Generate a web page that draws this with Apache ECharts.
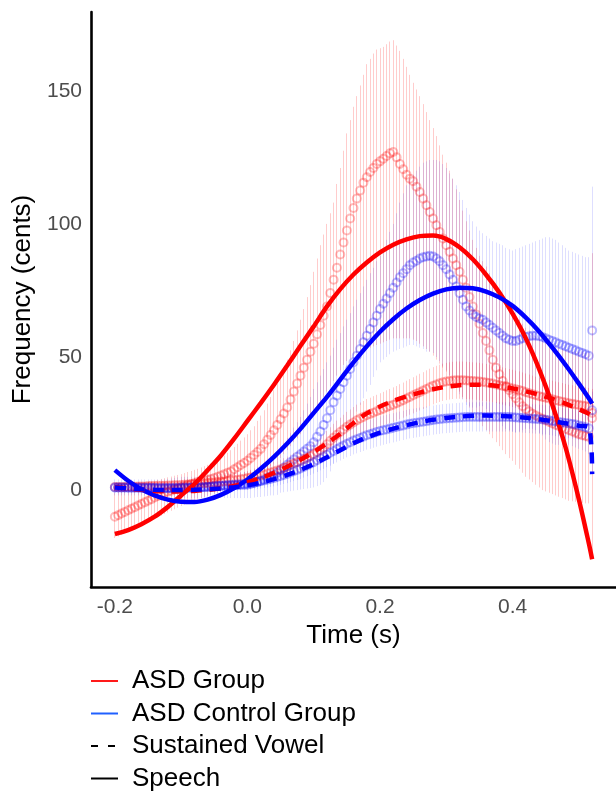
<!DOCTYPE html>
<html>
<head>
<meta charset="utf-8">
<script src="https://cdn.jsdelivr.net/npm/echarts@6/dist/echarts.min.js"></script>
<style>
html,body{margin:0;padding:0;background:#fff;}
#chart{width:616px;height:792px;}
</style>
</head>
<body>
<div id="chart"></div>
<script>
// ---- sampling grid of the per-time-point means (5 ms steps from -0.2 s to 0.52 s)
const timeStart = -0.2;
const timeStep = 0.005;

// ---- ASD group, speech: mean, upper and lower error limits (cents)
const asdSpeechMean = [
  -10,-9.4,-8.8,-8.2,-7.6,-7.0,-6.4,-5.8,-5.2,-4.6,
  -4.0,-3.4,-2.8,-2.2,-1.6,-1.0,-0.6,-0.2,0.2,0.6,
  1.0,1.4,1.8,2.2,2.6,3.0,3.3,3.6,3.9,4.2,
  4.5,5.0,5.5,6.0,6.5,7.0,7.8,8.6,9.4,10.2,
  11.0,12.1,13.2,14.3,15.5,17.2,18.9,20.7,22.5,24.5,
  26.6,28.8,31.0,34.0,37.0,40.0,43.0,46.0,49.0,52.0,
  55.0,58.5,62.0,65.5,69.0,74.0,79.0,83.5,88.5,93.0,
  97.5,102.0,106.0,109.5,112.5,115.5,117.5,119.5,121.0,122.5,
  123.5,124.5,125.5,126.5,127.0,125.0,122.5,120.5,118.5,117.0,
  116.0,114.0,112.0,109.5,107.0,104.5,102.0,99.5,97.0,94.5,
  92.0,89.5,87.0,84.5,82.0,79.0,76.0,72.5,69.0,66.0,
  62.5,59.0,56.0,52.5,49.0,46.0,43.5,41.0,39.0,37.5,
  36.0,34.5,33.0,31.5,30.5,29.5,28.7,28.0,27.4,26.8,
  26.2,25.6,25.0,24.5,24.0,23.5,23.0,22.5,22.0,21.5,
  21.0,20.6,20.3,20.0,27.0
];
const asdSpeechUpper = [
  -1.0,-0.6,-0.2,0.2,0.6,1.0,1.4,1.8,2.2,2.6,
  3.0,3.3,3.6,3.9,4.2,4.5,4.8,5.1,5.4,5.7,
  6.0,6.4,6.8,7.2,7.6,8.0,8.5,9.0,9.5,10.0,
  10.5,11.3,12.1,13.0,14.0,15.0,16.2,17.4,18.6,19.8,
  21.0,22.5,24.0,26.0,28.0,30.0,32.5,35.0,37.5,40.0,
  43.0,46.0,49.0,52.5,56.0,60.0,64.0,68.0,72.5,77.0,
  82.0,87.0,92.0,96.0,100.0,104.0,108.0,115.0,121.0,127.5,
  134.0,139.0,144.0,148.0,152.0,156.0,160.0,162.0,164.0,165.5,
  166.0,166.5,167.5,168.5,169.0,167.0,165.0,162.0,159.0,156.0,
  153.0,150.5,148.0,145.0,142.0,139.0,136.0,133.0,129.5,126.0,
  123.0,120.0,117.0,113.0,109.0,105.0,101.0,97.5,94.0,91.0,
  88.0,86.0,84.0,81.5,79.0,77.0,75.0,73.0,71.0,69.0,
  67.0,65.5,64.0,62.5,61.0,60.0,59.0,58.0,57.0,56.0,
  55.5,55.0,54.5,54.0,53.5,53.0,52.5,52.5,52.0,52.0,
  52.0,52.0,51.5,51.5,89.0
];
const asdSpeechLower = [
  -18.0,-17.4,-16.8,-16.2,-15.6,-15.0,-14.4,-13.8,-13.2,-12.6,
  -12.0,-11.4,-10.8,-10.2,-9.6,-9.0,-8.4,-7.8,-7.2,-6.6,
  -6.0,-5.5,-5.0,-4.5,-4.0,-3.5,-3.0,-2.6,-2.2,-1.8,
  -1.4,-1.0,-0.6,-0.2,0.2,0.6,1.0,1.5,2.0,2.5,
  3.0,3.8,4.6,5.4,6.2,7.0,8.0,9.0,10.0,11.0,
  12.0,13.5,15.0,16.5,18.0,19.5,21.0,23.0,25.0,27.0,
  29.0,31.0,33.0,35.0,37.0,39.0,41.0,43.0,45.0,47.0,
  48.5,49.5,50.5,51.5,52.0,52.5,53.0,53.5,54.0,54.5,
  55.0,55.5,56.0,56.5,57.0,57.0,57.0,57.0,57.0,57.0,
  56.5,56.0,55.0,54.0,53.0,52.0,50.5,49.0,47.5,46.0,
  44.5,43.0,41.0,39.0,37.0,35.0,33.0,31.0,29.0,27.0,
  25.5,24.0,22.5,21.0,19.5,18.0,16.5,15.0,13.5,12.0,
  11.0,9.5,8.0,6.5,5.0,4.0,3.0,2.0,1.0,0.0,
  -0.5,-1.0,-1.5,-2.0,-2.5,-3.0,-3.5,-4.0,-4.2,-4.4,
  -4.6,-4.8,-5.0,-5.0,-25.0
];

// ---- ASD control group, speech
const ctlSpeechMean = [
  1.0,1.0,1.0,1.0,1.0,1.0,1.0,1.0,1.0,1.0,
  1.0,0.9,0.8,0.8,0.8,0.8,0.8,0.8,0.8,0.9,
  1.0,1.0,1.0,1.0,1.0,1.0,1.1,1.2,1.3,1.4,
  1.5,1.5,1.6,1.6,1.7,1.7,1.8,1.8,1.9,1.9,
  2.0,2.3,2.7,3.1,3.5,4.0,4.6,5.2,5.8,6.5,
  7.5,8.5,9.5,10.5,11.5,12.5,13.5,14.5,15.5,16.5,
  18.0,20.0,22.0,24.5,27.0,30.0,33.0,35.5,38.0,40.5,
  43.0,45.5,48.0,50.5,53.0,55.5,58.0,60.5,63.0,65.5,
  68.0,70.0,72.0,74.0,76.0,78.0,80.0,81.5,83.0,84.5,
  85.5,86.2,87.0,87.5,87.8,88.0,87.8,87.0,86.0,84.5,
  83.0,81.0,79.0,76.5,74.0,71.5,69.0,67.5,66.0,65.0,
  64.5,64.0,63.0,62.0,61.0,60.0,59.0,58.0,57.0,56.5,
  56.0,56.0,56.5,57.0,57.5,57.8,58.0,58.0,57.8,57.5,
  57.0,56.5,56.0,55.5,55.0,54.5,54.0,53.5,53.0,52.5,
  52.0,51.5,51.0,50.5,60.0
];
const ctlSpeechUpper = [
  4.0,4.0,4.0,4.0,4.0,4.0,4.0,4.0,4.0,4.0,
  4.0,4.0,4.0,4.0,4.0,4.0,4.2,4.4,4.6,4.8,
  5.0,5.0,5.0,5.0,5.0,5.0,5.2,5.4,5.6,5.8,
  6.0,6.1,6.2,6.3,6.4,6.5,6.6,6.7,6.8,6.9,
  7.0,7.6,8.2,8.8,9.6,10.4,11.4,12.4,13.6,14.8,
  16.0,17.8,19.6,21.5,23.5,25.5,27.5,30.0,32.5,35.0,
  38.0,40.5,43.0,45.5,48.0,50.5,53.5,56.5,59.0,61.5,
  64.0,66.5,69.0,71.5,74.0,76.5,79.0,81.5,83.5,86.0,
  88.0,91.0,94.0,97.0,100.0,104.0,108.0,111.5,114.5,117.0,
  118.5,120.0,121.5,123.0,123.5,124.0,124.0,124.0,123.5,122.5,
  121.0,119.0,117.0,114.5,112.0,109.0,106.0,103.5,101.0,99.0,
  97.5,96.5,95.5,94.5,93.5,93.0,92.5,92.0,91.0,90.5,
  90.0,90.5,91.0,91.5,92.0,92.5,93.0,93.5,94.0,94.5,
  95.0,95.0,94.5,94.0,93.0,92.0,91.0,90.0,89.5,89.0,
  88.5,88.0,87.5,87.5,114.0
];
const ctlSpeechLower = [
  -2.0,-2.0,-2.0,-2.0,-2.0,-2.0,-2.0,-2.0,-2.0,-2.0,
  -2.0,-2.2,-2.4,-2.4,-2.4,-2.4,-2.6,-2.8,-3.0,-3.0,
  -3.0,-3.0,-3.0,-3.0,-3.0,-3.0,-3.0,-3.0,-3.0,-3.0,
  -3.0,-3.0,-3.0,-3.0,-3.0,-3.0,-3.0,-3.0,-3.0,-3.0,
  -3.0,-3.0,-2.8,-2.6,-2.6,-2.4,-2.2,-2.0,-2.0,-1.8,
  -1.0,-0.8,-0.6,-0.4,-0.2,0.0,0.2,0.4,0.6,0.8,
  1.0,1.5,2.0,3.0,4.5,7.0,10.0,13.0,16.0,19.0,
  22.0,24.5,27.0,29.5,32.0,34.5,37.0,39.5,42.5,45.0,
  48.0,49.0,50.0,51.0,52.0,52.5,53.0,53.5,54.0,54.5,
  54.5,54.0,53.5,53.0,52.0,52.0,51.5,50.0,48.5,46.5,
  45.0,43.0,41.0,38.5,36.0,34.0,32.0,31.5,31.0,31.0,
  31.5,31.5,30.5,29.5,28.5,27.0,25.5,24.0,23.0,22.5,
  22.0,21.5,22.0,22.5,23.0,23.0,23.0,22.5,21.5,20.5,
  19.0,18.0,17.5,17.0,17.0,17.0,17.0,17.0,16.5,16.0,
  15.5,15.0,14.5,13.5,6.0
];

// ---- ASD group, sustained vowel: mean and error half-width
const asdVowelMean = [
  1.2,1.2,1.2,1.2,1.3,1.3,1.3,1.4,1.4,1.4,
  1.5,1.5,1.5,1.6,1.6,1.6,1.7,1.7,1.8,1.8,
  1.9,2.0,2.1,2.2,2.3,2.4,2.5,2.6,2.7,2.8,
  2.9,3.0,3.1,3.2,3.4,3.6,3.7,3.9,4.1,4.3,
  4.5,4.7,4.9,5.2,5.5,5.8,6.2,6.6,7.0,7.4,
  7.8,8.3,8.8,9.4,10.0,10.5,11.0,11.6,12.2,12.8,
  13.5,14.3,15.0,16.0,17.2,18.5,19.7,20.8,21.8,22.8,
  23.8,24.6,25.4,26.2,26.9,27.5,28.1,28.6,29.1,29.6,
  30.1,30.6,31.1,31.6,32.1,32.6,33.2,33.8,34.4,35.0,
  35.6,36.2,36.8,37.4,38.0,38.6,39.2,39.7,40.1,40.5,
  40.8,41.0,41.2,41.3,41.3,41.3,41.2,41.1,41.0,40.9,
  40.8,40.6,40.4,40.2,40.0,39.7,39.4,39.1,38.8,38.5,
  38.2,37.9,37.6,37.2,36.8,36.4,36.0,35.6,35.3,35.0,
  34.7,34.4,34.1,33.8,33.5,33.2,32.9,32.6,32.4,32.2,
  32.0,31.8,31.6,31.4,29.0
];
const asdVowelErr = [
  1.5,1.5,1.5,1.5,1.5,1.6,1.6,1.6,1.6,1.6,
  1.7,1.7,1.7,1.7,1.8,1.8,1.8,1.8,1.9,1.9,
  2.0,2.0,2.0,2.0,2.1,2.1,2.1,2.2,2.2,2.2,
  2.3,2.3,2.3,2.4,2.4,2.4,2.5,2.5,2.5,2.5,
  2.6,2.7,2.8,2.9,3.0,3.1,3.2,3.3,3.4,3.5,
  3.6,3.7,3.8,3.9,4.0,4.1,4.2,4.3,4.4,4.5,
  4.6,4.7,4.8,4.9,5.0,5.1,5.2,5.3,5.4,5.5,
  5.6,5.7,5.8,5.9,6.0,6.0,6.1,6.1,6.2,6.2,
  6.3,6.3,6.4,6.4,6.5,6.5,6.6,6.6,6.7,6.7,
  6.8,6.8,6.9,6.9,7.0,7.0,7.0,7.0,7.0,7.0,
  7.0,7.0,7.0,7.0,7.0,7.0,7.0,7.0,7.0,7.0,
  7.0,7.0,7.0,7.0,7.0,7.0,7.0,7.0,7.0,7.0,
  7.0,7.0,7.0,7.0,7.0,7.0,7.0,7.0,7.0,7.0,
  7.0,7.0,7.0,7.0,7.0,7.0,7.0,7.0,7.0,7.0,
  7.0,7.0,7.0,7.0,9.0
];

// ---- ASD control group, sustained vowel
const ctlVowelMean = [
  1.0,1.0,1.0,1.0,0.9,0.9,0.9,0.9,0.8,0.8,
  0.8,0.8,0.8,0.7,0.7,0.7,0.7,0.7,0.7,0.7,
  0.7,0.8,0.8,0.9,0.9,1.0,1.0,1.1,1.2,1.3,
  1.4,1.5,1.6,1.7,1.8,1.9,2.0,2.1,2.2,2.3,
  2.4,2.6,2.8,3.0,3.3,3.6,3.9,4.2,4.5,4.9,
  5.3,5.7,6.1,6.6,7.1,7.6,8.1,8.7,9.3,9.9,
  10.5,11.2,11.9,12.6,13.3,14.0,14.7,15.4,16.1,16.8,
  17.4,18.0,18.6,19.1,19.6,20.1,20.6,21.0,21.4,21.8,
  22.2,22.5,22.8,23.1,23.4,23.7,24.0,24.3,24.6,24.9,
  25.1,25.3,25.5,25.7,25.9,26.1,26.3,26.5,26.6,26.8,
  26.9,27.0,27.1,27.2,27.3,27.4,27.5,27.5,27.5,27.5,
  27.5,27.5,27.5,27.5,27.5,27.5,27.5,27.5,27.5,27.5,
  27.4,27.3,27.2,27.1,27.0,26.9,26.8,26.7,26.6,26.5,
  26.4,26.2,26.0,25.8,25.6,25.4,25.2,25.0,24.8,24.6,
  24.3,24.0,23.6,23.2,30.0
];
const ctlVowelErr = [
  1.3,1.3,1.3,1.3,1.3,1.3,1.3,1.3,1.3,1.3,
  1.4,1.4,1.4,1.4,1.4,1.5,1.5,1.5,1.5,1.5,
  1.5,1.6,1.6,1.6,1.7,1.7,1.7,1.8,1.8,1.8,
  1.9,1.9,2.0,2.0,2.0,2.1,2.1,2.2,2.2,2.2,
  2.3,2.4,2.5,2.6,2.7,2.8,2.9,3.0,3.1,3.2,
  3.3,3.4,3.5,3.6,3.7,3.8,3.9,4.0,4.1,4.2,
  4.3,4.4,4.5,4.6,4.7,4.8,4.9,5.0,5.0,5.1,
  5.1,5.2,5.2,5.3,5.3,5.4,5.4,5.5,5.5,5.5,
  5.5,5.5,5.5,5.5,5.5,5.5,5.5,5.5,5.5,5.5,
  5.5,5.5,5.5,5.5,5.5,5.5,5.5,5.5,5.5,5.5,
  5.5,5.5,5.5,5.5,5.5,5.5,5.5,5.5,5.5,5.5,
  5.5,5.5,5.5,5.5,5.5,5.5,5.5,5.5,5.5,5.5,
  5.5,5.5,5.5,5.5,5.5,5.5,5.5,5.5,5.5,5.5,
  5.5,5.5,5.5,5.5,5.5,5.5,5.5,5.5,5.5,5.5,
  5.5,5.5,5.5,5.5,7.0
];

// ---- fitted smooth curves
const fitTimes = [
  -0.20,-0.18,-0.16,-0.14,-0.12,-0.10,-0.08,-0.06,-0.04,-0.02,
  0.00,0.02,0.04,0.06,0.08,0.10,0.12,0.14,0.16,0.18,
  0.20,0.22,0.24,0.26,0.28,0.30,0.32,0.34,0.36,0.38,
  0.40,0.42,0.44,0.46,0.48,0.50,0.515,0.52
];
const asdSpeechFit = [
  -16.5,-15.0,-12.8,-10.0,-6.3,-2.0,2.3,7.5,13.0,19.3,
  26.0,32.7,39.6,46.8,54.2,61.5,69.0,75.5,81.0,85.5,
  89.3,92.2,94.2,95.4,95.6,94.3,91.2,86.7,80.9,74.2,
  66.3,57.0,45.5,32.0,16.0,-3.5,-20.0,-26.0
];
const ctlSpeechFit = [
  7.5,3.5,0.3,-2.0,-3.6,-4.4,-4.5,-3.6,-1.8,0.8,
  4.0,8.0,12.5,17.5,23.0,29.0,35.0,41.5,48.0,54.0,
  59.5,64.2,68.2,71.4,73.8,75.4,76.0,75.8,74.6,72.4,
  69.2,64.8,59.6,53.5,47.0,40.0,34.5,32.5
];
const asdVowelFit = [
  1.2,0.6,0.1,-0.3,-0.5,-0.5,-0.3,0.1,0.7,1.6,
  2.9,4.5,6.5,8.8,11.4,14.3,17.6,21.2,25.2,28.8,
  31.4,33.5,35.2,36.6,37.9,38.8,39.4,39.6,39.5,39.0,
  38.2,37.1,35.8,34.3,32.5,30.4,28.7,27.8
];
const ctlVowelFit = [
  1.0,0.6,0.3,0.1,0.0,0.0,0.1,0.3,0.6,1.1,
  1.8,2.8,4.1,5.7,7.6,9.8,12.3,15.0,17.6,19.8,
  21.6,23.1,24.4,25.5,26.4,27.1,27.6,27.9,28.0,27.9,
  27.6,27.2,26.6,25.9,25.1,24.2,23.6,6.0
];

// ---- axis ticks and legend labels
const xTicks = [-0.2, 0.0, 0.2, 0.4];
const yTicks = [0, 50, 100, 150];
const legendNames = ['ASD Group', 'ASD Control Group', 'Sustained Vowel', 'Speech'];

// ---------------------------------------------------------------
const RED = '#ff0000', BLUE = '#0000ff';
const FONT = '"Liberation Sans", Arial, Helvetica, sans-serif';
const times = asdSpeechMean.map((_, i) => +(timeStart + i * timeStep).toFixed(3));

function pts(arr) { return times.map((t, i) => [t, arr[i]]); }
function band(lo, hi) { return times.map((t, i) => [t, lo[i], hi[i]]); }
function symBand(mean, err) { return times.map((t, i) => [t, mean[i] - err[i], mean[i] + err[i]]); }
function fit(arr) { return fitTimes.map((t, i) => [t, arr[i]]); }

function errSeries(data, color) {
  return {
    type: 'custom', data: data, z: 1, silent: true,
    encode: { x: 0, y: [1, 2] },
    renderItem: function (params, api) {
      const t = api.value(0);
      const a = api.coord([t, api.value(1)]);
      const b = api.coord([t, api.value(2)]);
      const px = Math.round(a[0] - 0.5) + 0.5; // crisp 1px bar
      return { type: 'line', shape: { x1: px, y1: a[1], x2: px, y2: b[1] },
        style: { stroke: color, lineWidth: 1 } };
    }
  };
}
function pointSeries(data, color) {
  return {
    type: 'scatter', data: data, z: 2, silent: true,
    symbol: 'circle', symbolSize: 8,
    itemStyle: { color: 'transparent', borderColor: color, borderWidth: 2 }
  };
}
function fitSeries(data, color, dashed) {
  return {
    type: 'line', data: data, z: 3, silent: true, showSymbol: false, symbol: 'none',
    smooth: 0.3,
    lineStyle: { color: color, width: 4.5, type: dashed ? [11, 8] : 'solid' }
  };
}
function legendSeries(name, color, dashed) {
  return {
    type: 'line', name: name, data: [], symbol: 'none', color: color,
    lineStyle: { color: color, width: 2, type: dashed ? [7, 10] : 'solid' }
  };
}

const chart = echarts.init(document.getElementById('chart'), null, { renderer: 'canvas' });
chart.setOption({
  animation: false,
  backgroundColor: '#ffffff',
  textStyle: { fontFamily: FONT },
  grid: { left: 91, right: 0, top: 12, bottom: 205, containLabel: false, outerBoundsMode: 'none' },
  xAxis: {
    type: 'value', min: -0.236, max: 0.556,
    name: 'Time (s)', nameLocation: 'middle', nameGap: 33,
    nameTextStyle: { fontSize: 26, color: '#000', fontFamily: FONT },
    axisLine: { show: true, onZero: false, lineStyle: { color: '#000', width: 2.6 } },
    axisTick: { show: false },
    splitLine: { show: false },
    axisLabel: { customValues: xTicks, fontSize: 21, color: '#4d4d4d', margin: 10, fontFamily: FONT,
      formatter: v => (Math.abs(v) < 1e-9 ? 0 : v).toFixed(1) }
  },
  yAxis: {
    type: 'value', min: -36.4, max: 179.6,
    name: 'Frequency (cents)', nameLocation: 'middle', nameGap: 47, nameRotate: 90,
    nameTextStyle: { fontSize: 26, color: '#000', fontFamily: FONT },
    axisLine: { show: true, onZero: false, lineStyle: { color: '#000', width: 2.6 } },
    axisTick: { show: false },
    splitLine: { show: false },
    axisLabel: { customValues: yTicks, fontSize: 21, color: '#4d4d4d', margin: 9, fontFamily: FONT }
  },
  legend: {
    orient: 'vertical', left: 90, top: 668, padding: 0,
    itemWidth: 27, itemHeight: 14, itemGap: 6.5,
    selectedMode: false,
    data: legendNames,
    itemStyle: { opacity: 0 },
    textStyle: { fontSize: 26, color: '#000', lineHeight: 26, fontFamily: FONT, padding: [0, 0, 0, 9] }
  },
  series: [
    errSeries(band(asdSpeechLower, asdSpeechUpper), 'rgba(255,0,0,0.2)'),
    errSeries(band(ctlSpeechLower, ctlSpeechUpper), 'rgba(0,0,255,0.13)'),
    errSeries(symBand(asdVowelMean, asdVowelErr), 'rgba(255,0,0,0.2)'),
    errSeries(symBand(ctlVowelMean, ctlVowelErr), 'rgba(0,0,255,0.13)'),
    pointSeries(pts(asdSpeechMean), 'rgba(255,0,0,0.33)'),
    pointSeries(pts(ctlSpeechMean), 'rgba(0,0,255,0.33)'),
    pointSeries(pts(asdVowelMean), 'rgba(255,0,0,0.33)'),
    pointSeries(pts(ctlVowelMean), 'rgba(0,0,255,0.33)'),
    fitSeries(fit(asdSpeechFit), RED, false),
    fitSeries(fit(ctlSpeechFit), BLUE, false),
    fitSeries(fit(asdVowelFit), RED, true),
    fitSeries(fit(ctlVowelFit), BLUE, true),
    legendSeries(legendNames[0], '#ff1a1a', false),
    legendSeries(legendNames[1], '#2060ff', false),
    legendSeries(legendNames[2], '#000000', true),
    legendSeries(legendNames[3], '#000000', false)
  ]
});
</script>
</body>
</html>
